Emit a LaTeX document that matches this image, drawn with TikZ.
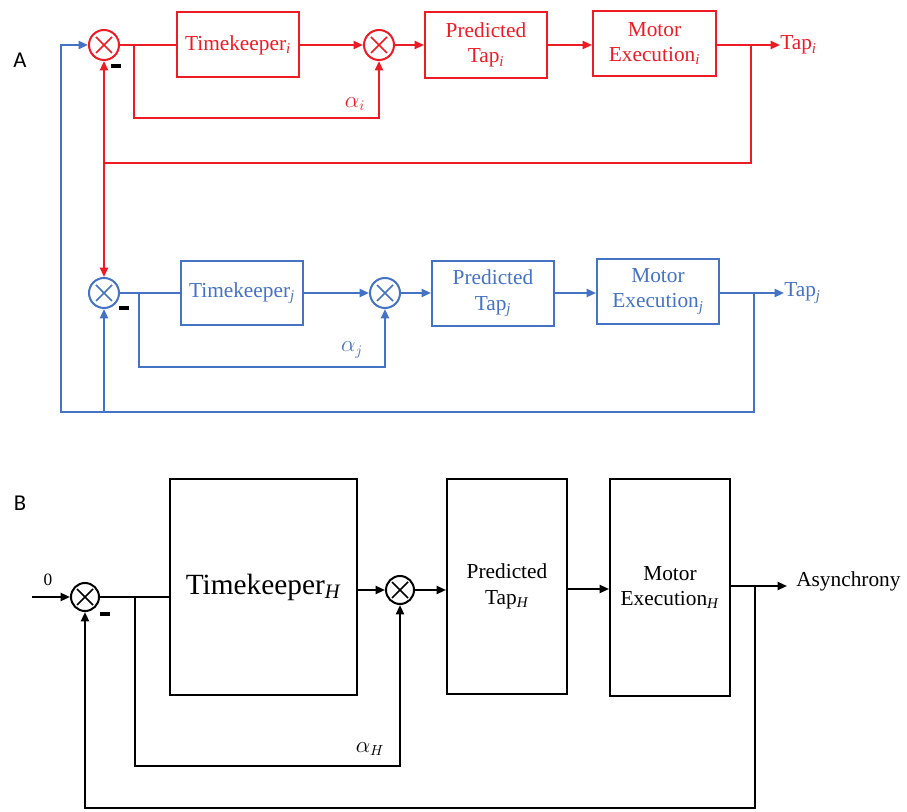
\documentclass[tikz,border=0pt]{standalone}
\usepackage{fontspec}
\setmainfont{Liberation Serif}
\newfontfamily\panelfont{Carlito}
\usepackage{tikz}
\usetikzlibrary{arrows.meta}

\definecolor{tapred}{RGB}{237,28,36}
\definecolor{tapblue}{RGB}{68,114,196}

\tikzset{
  sumnode/.style={circle,draw,line width=1.5pt,minimum size=#1,inner sep=0pt,
    path picture={
      \draw[line width=1.1pt] ([shift={(-6pt,-6pt)}]path picture bounding box.center) -- ([shift={(6pt,6pt)}]path picture bounding box.center);
      \draw[line width=1.1pt] ([shift={(-6pt,6pt)}]path picture bounding box.center) -- ([shift={(6pt,-6pt)}]path picture bounding box.center);}},
  sumnode/.default=22.5pt,
  blockbox/.style={draw,line width=1.5pt,align=center,inner sep=1pt,font=\fontsize{16}{19}\selectfont},
  txt/.style={inner sep=0pt,font=\fontsize{16}{19}\selectfont},
  panel/.style={inner sep=0pt,font=\panelfont\fontsize{17}{20}\selectfont},
  minusbar/.style={inner sep=0pt,text=black},
  wire/.style={line width=1.5pt},
  flow/.style={line width=1.5pt,-{Triangle[length=7pt,width=6pt]}},
}

\begin{document}
\begin{tikzpicture}[x=0.75pt,y=0.75pt,yscale=-1,xscale=1]
\useasboundingbox (0,0) rectangle (907,812);

% Panel labels
\node[panel] (labA) at (20,60) {A};
\node[panel] (labB) at (20,503) {B};

%%%%%%%% Panel A, loop i (red)
\begin{scope}[color=tapred]
\node[sumnode] (si1) at (104,45) {};
\node[blockbox,minimum width=91.5pt,minimum height=48.75pt] (tki) at (238,45) {Timekeeper\textsubscript{\textit{i}}};
\node[sumnode] (si2) at (379,45) {};
\node[blockbox,minimum width=91.5pt,minimum height=49.5pt] (pri) at (486,45) {Predicted\\Tap\textsubscript{\textit{i}}};
\node[blockbox,minimum width=92.25pt,minimum height=48.75pt] (moi) at (654.5,43.5) {Motor\\Execution\textsubscript{\textit{i}}};
\node[txt,anchor=west] (outi) at (780,45) {Tap\textsubscript{\textit{i}}};
\node[txt] (ali) at (355,104) {$\alpha_{i}$};
\coordinate (bi) at (134,45);
\coordinate (ji) at (751,45);
\coordinate (fi) at (104,163);

%Straight Lines
\draw[wire] (si1.east) -- (tki.west);
\draw[flow] (bi) -- (134,118) -| (si2.south);
\draw[flow] (tki.east) -- (si2.west);
\draw[flow] (si2.east) -- (pri.west);
\draw[flow] (pri.east) -- (pri.east -| moi.west);
\draw[flow] (moi.east |- ji) -- (outi.west);
\draw[wire] (ji) |- (fi);
\draw[flow] (fi) -- (si1.south);
\end{scope}
\node[minusbar] (mi) at (116,66) {\rule{7.5pt}{2.6pt}};

%%%%%%%% Panel A, loop j (blue)
\begin{scope}[color=tapblue]
\node[sumnode] (sj1) at (104,293) {};
\node[blockbox,minimum width=91.5pt,minimum height=48pt] (tkj) at (242,293) {Timekeeper\textsubscript{\textit{j}}};
\node[sumnode] (sj2) at (385,293) {};
\node[blockbox,minimum width=91.5pt,minimum height=48.75pt] (prj) at (493,293.5) {Predicted\\Tap\textsubscript{\textit{j}}};
\node[blockbox,minimum width=91.5pt,minimum height=48.75pt] (moj) at (658,291.5) {Motor\\Execution\textsubscript{\textit{j}}};
\node[txt,anchor=west] (outj) at (784,293) {Tap\textsubscript{\textit{j}}};
\node[txt] (alj) at (352,350) {$\alpha_{j}$};
\coordinate (bj) at (139,293);
\coordinate (jj) at (754,293);
\coordinate (fj) at (61,412);

%Straight Lines
\draw[wire] (sj1.east) -- (tkj.west);
\draw[flow] (bj) -- (139,367) -| (sj2.south);
\draw[flow] (tkj.east) -- (sj2.west);
\draw[flow] (sj2.east) -- (sj2.east -| prj.west);
\draw[flow] (prj.east |- sj2) -- (sj2 -| moj.west);
\draw[flow] (moj.east |- jj) -- (outj.west);
\draw[flow] (jj) |- (fj) |- (si1.west);
\draw[flow] (sj1 |- fj) -- (sj1.south);
\end{scope}
\draw[flow,tapred] (fi) -- (sj1.north);
\node[minusbar] (mj) at (124,308) {\rule{7.5pt}{2.6pt}};

%%%%%%%% Panel B, human loop (black)
\node[sumnode=21pt] (sh1) at (85,597) {};
\node[draw,line width=1.5pt,inner sep=1pt,minimum width=140.25pt,minimum height=162pt,font=\fontsize{22}{26}\selectfont] (tkh) at (263.5,587) {Timekeeper\textsubscript{\textit{H}}};
\node[sumnode=21pt] (sh2) at (400,590) {};
\node[blockbox,minimum width=90pt,minimum height=161.25pt] (prh) at (507,586.5) {Predicted\\Tap\textsubscript{\textit{H}}};
\node[blockbox,minimum width=90pt,minimum height=162.75pt] (moh) at (670,587.5) {Motor\\Execution\textsubscript{\textit{H}}};
\node[txt,anchor=west] (outh) at (796,581) {Asynchrony};
\node[inner sep=0pt,font=\fontsize{13}{15}\selectfont] (zero) at (48,580) {0};
\node[txt] (alh) at (370,749) {$\alpha_{H}$};
\coordinate (inh) at (32,597);
\coordinate (bh) at (135,597);
\coordinate (jh) at (755,586);
\coordinate (fh) at (85,808);
\node[minusbar] (mh) at (105,614) {\rule{7.5pt}{2.6pt}};

%Straight Lines
\draw[flow] (inh) -- (sh1.west);
\draw[wire] (sh1.east) -- (sh1.east -| tkh.west);
\draw[flow] (bh) -- (135,766) -| (sh2.south);
\draw[flow] (tkh.east |- sh2.west) -- (sh2.west);
\draw[flow] (sh2.east) -- (sh2.east -| prh.west);
\draw[flow] (prh.east |- 0,589) -- (moh.west |- 0,589);
\draw[flow] (moh.east |- jh) -- (787,586);
\draw[flow] (jh) |- (fh) -- (sh1.south);

\end{tikzpicture}
\end{document}
